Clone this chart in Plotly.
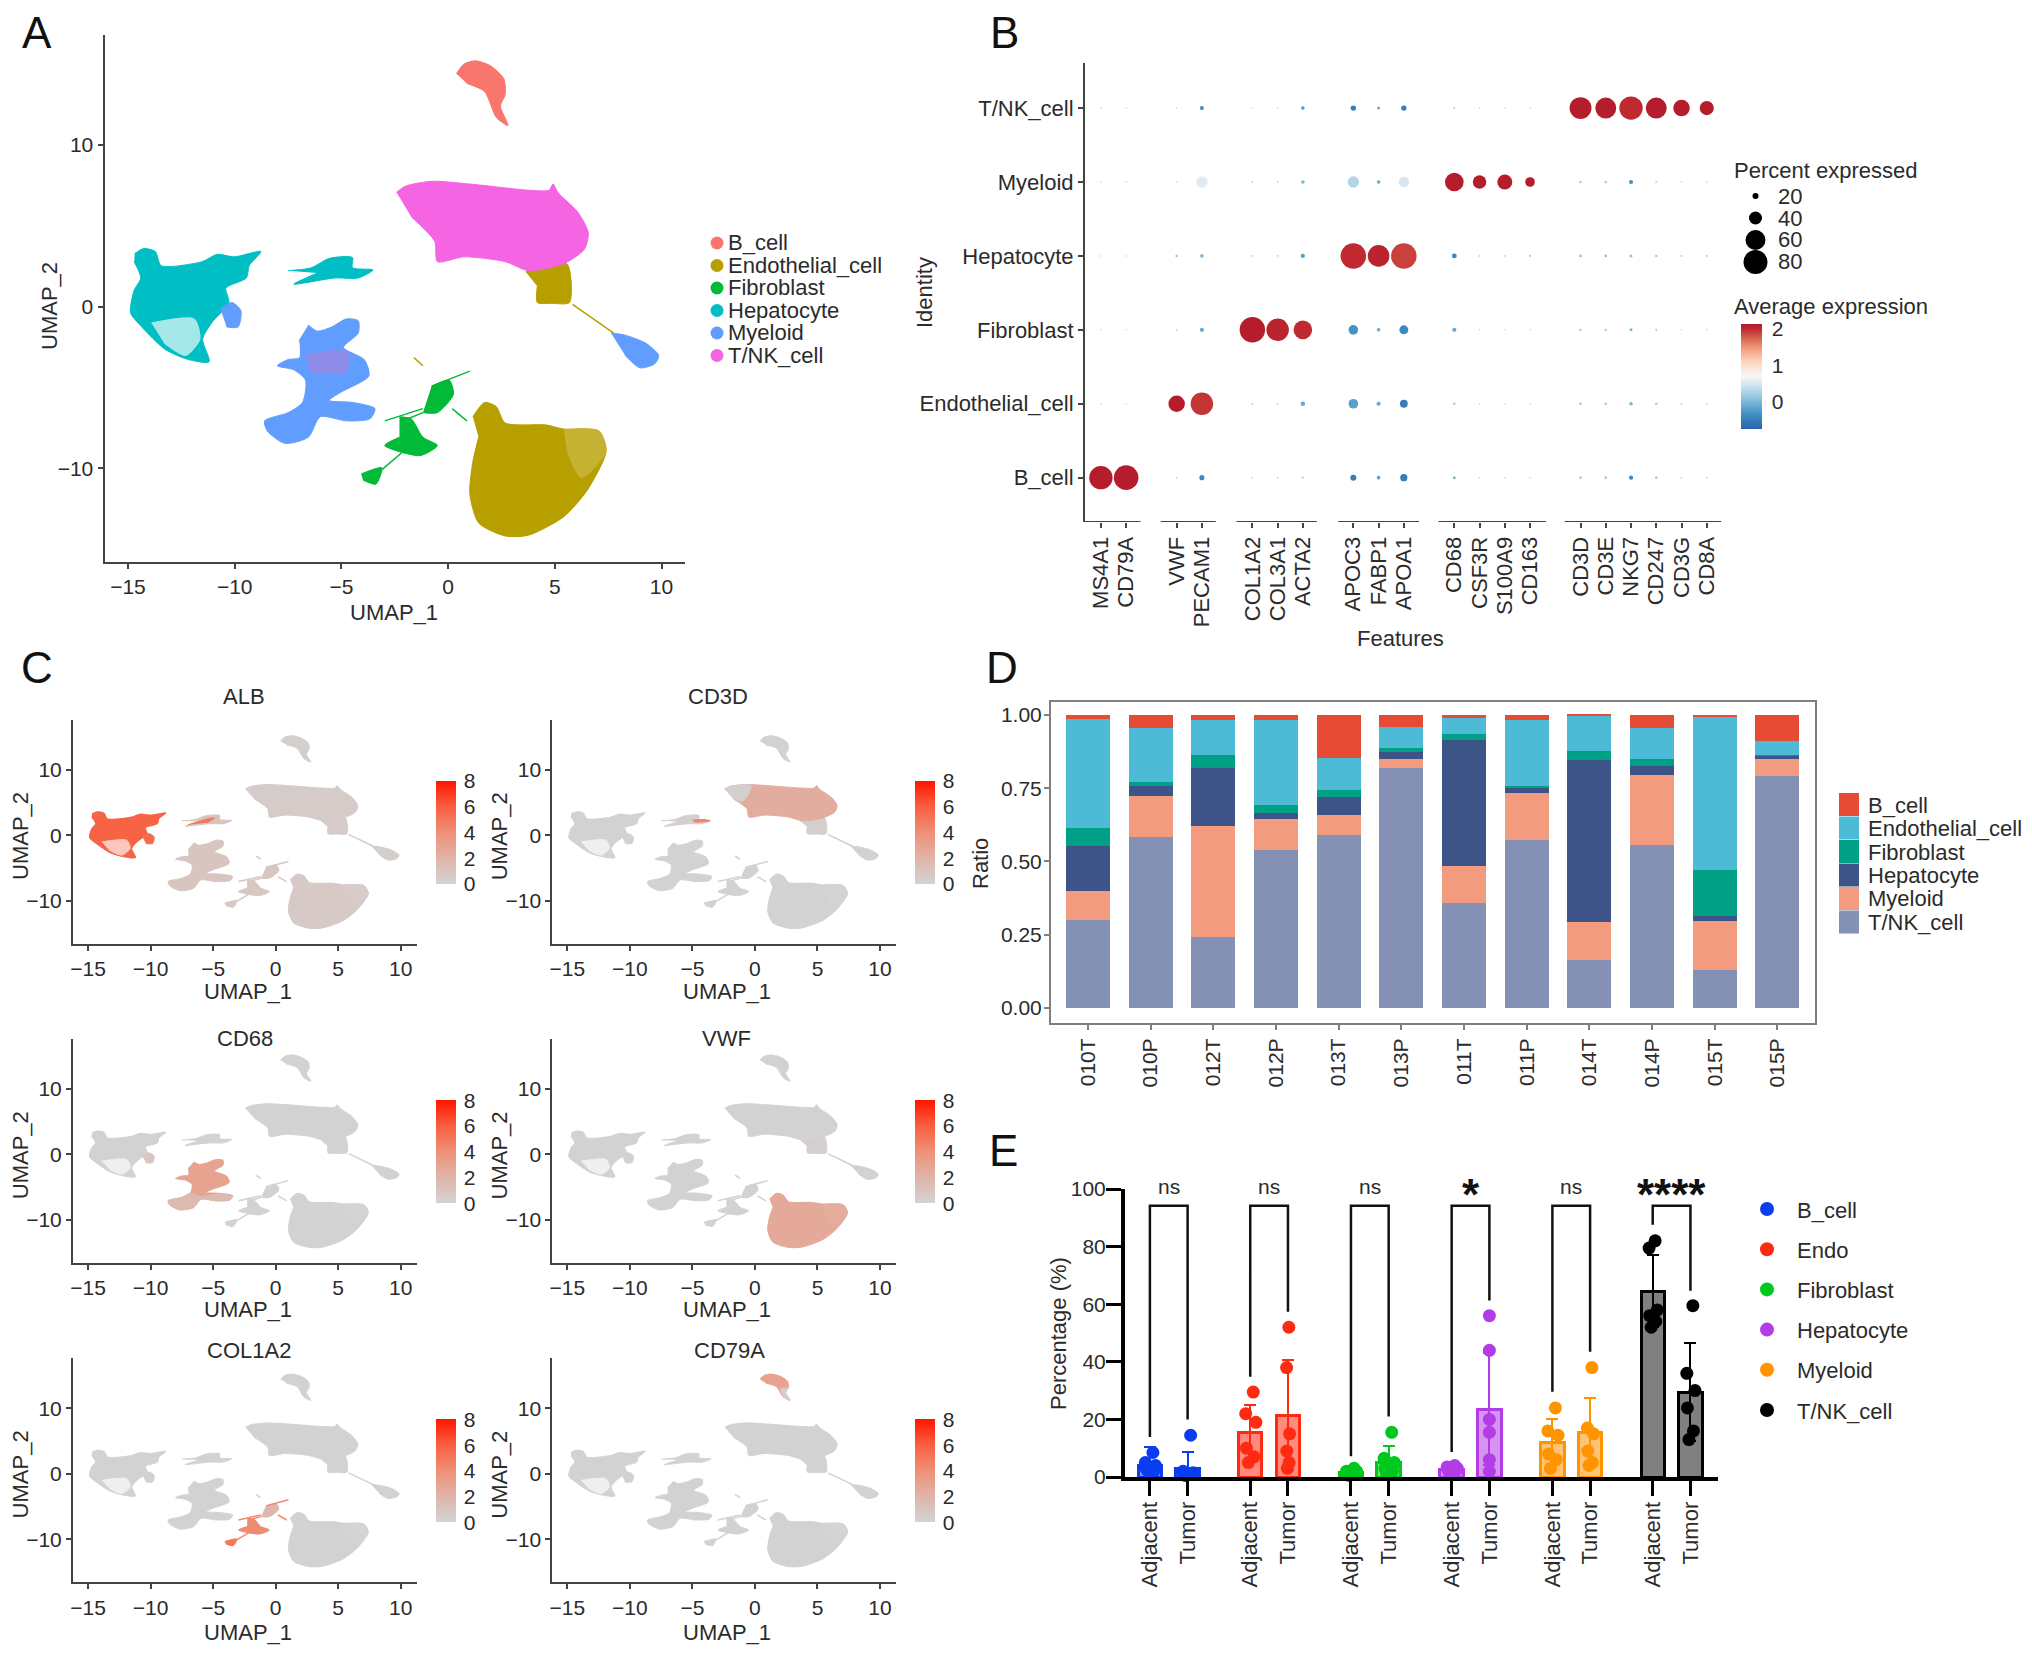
import plotly.graph_objects as go

# the page keeps its 8 px body margin, so the figure sits 8 px in from the corner
W, H = 2032, 1654
OFF = 8
FONT = "Liberation Sans"
INK = "#2b2b2b"

# --- UMAP cluster outlines (UMAP_1, UMAP_2)
B_CELL = [(0.39, 14.4), (0.74, 15.0), (1.29, 15.2), (1.98, 14.9), (2.61, 14.1), (2.67, 13.1), (2.45, 12.4),
          (2.81, 11.2), (2.26, 11.7), (1.71, 13.3), (0.88, 13.8)]
TNK = [(-2.42, 7.07), (-2.0, 7.45), (-0.77, 7.75), (1.02, 7.58), (3.77, 7.2), (4.73, 7.2), (4.92, 7.58), (5.14, 7.07),
       (6.1, 5.8), (6.57, 4.55), (6.38, 3.54), (5.42, 2.65), (3.77, 2.22), (2.67, 2.78), (0.74, 3.08), (-0.5, 2.78),
       (-0.63, 4.04), (-1.73, 5.56)]
ENDO_TOP = [(3.63, 2.15), (5.56, 2.65), (5.69, 0.25), (4.87, 0.2), (4.18, 0.25), (4.18, 1.26)]
ENDO_MAIN = [(1.16, -6.82), (1.71, -5.93), (2.26, -6.19), (2.67, -7.2), (4.59, -7.32), (5.42, -7.58), (7.07, -7.7),
             (7.4, -8.96), (6.52, -11.36), (5.42, -13.0), (3.77, -14.14), (2.67, -14.19), (1.43, -13.38),
             (1.02, -11.6), (1.16, -9.6), (1.43, -8.08)]
ENDO_PALE = [(5.42, -7.6), (7.07, -7.7), (7.4, -8.96), (6.25, -10.6), (5.56, -8.9)]
ENDO_STRAND = [(5.83, 0.13), (7.76, -1.64)]
ENDO_SPOT = [(-1.6, -3.16), (-1.18, -3.66)]
FIB_UPPER = [(-0.77, -4.92), (0.05, -4.55), (0.25, -5.43), (-0.5, -6.56), (-1.18, -6.56)]
FIB_MIDDLE = [(-2.28, -6.82), (-1.73, -6.94), (-1.18, -8.08), (-0.5, -8.59), (-1.32, -9.22), (-2.97, -8.59),
              (-2.28, -8.08)]
FIB_LOWER = [(-4.07, -10.35), (-3.11, -9.97), (-3.38, -10.98), (-3.99, -10.73)]
FIB_THREADS = [[(1.02, -3.99), (-0.77, -4.92)], [(-3.11, -10.1), (-2.0, -8.84)], [(-2.97, -7.07), (-1.18, -6.31)],
               [(0.19, -6.31), (0.88, -7.07)], [(-1.18, -6.56), (-2.0, -7.0)]]
HEP_MAIN = [(-14.68, 3.28), (-14.27, 3.59), (-13.72, 3.41), (-13.44, 2.53), (-11.52, 2.78), (-10.83, 3.23),
            (-10.01, 3.08), (-8.77, 3.41), (-9.32, 2.53), (-9.45, 1.77), (-10.41, 1.14), (-10.27, 0.25),
            (-11.08, -1.01), (-11.5, -2.02), (-11.2, -3.41), (-12.16, -3.28), (-13.26, -2.65), (-14.35, -1.26),
            (-14.88, -0.38), (-14.71, 1.01), (-14.4, 1.77), (-14.71, 2.78)]
HEP_PALE = [(-13.9, -1.01), (-11.9, -0.76), (-11.63, -2.02), (-12.3, -3.03), (-13.3, -2.27)]
HEP_SMALL = [(-7.5, 2.22), (-6.41, 2.4), (-5.58, 2.98), (-4.48, 3.03), (-4.48, 2.4), (-3.52, 2.27), (-4.21, 1.77),
             (-5.3, 1.77), (-7.23, 1.39), (-6.13, 2.07)]
MYE_MAIN = [(-6.55, -1.14), (-6.13, -1.52), (-5.45, -1.26), (-4.76, -0.76), (-4.21, -0.88), (-4.21, -1.64),
            (-4.9, -2.53), (-3.93, -3.28), (-3.71, -4.29), (-5.03, -5.3), (-5.58, -5.81), (-4.48, -5.93),
            (-3.43, -6.31), (-3.66, -6.94), (-4.76, -7.07), (-5.99, -6.82), (-6.55, -8.08), (-7.65, -8.46),
            (-8.47, -7.7), (-8.6, -7.07), (-7.5, -6.56), (-6.82, -5.93), (-6.68, -4.55), (-7.23, -3.91),
            (-8.0, -3.66), (-7.5, -3.28), (-6.96, -3.16), (-6.96, -2.02)]
MYE_CORE = [(-6.7, -3.0), (-4.76, -2.78), (-4.76, -4.04), (-6.41, -4.04)]
MYE_LOBE = [(-10.67, -0.13), (-10.12, 0.25), (-9.71, -0.25), (-9.84, -1.26), (-10.38, -1.26)]
MYE_RIGHT = [(7.63, -1.64), (8.3, -1.77), (9.27, -2.27), (9.87, -3.03), (9.68, -3.54), (8.99, -3.79), (8.3, -3.03)]

UMAP_TYPES = ["B_cell", "Endothelial_cell", "Fibroblast", "Hepatocyte", "Myeloid", "T/NK_cell"]
UMAP_COLORS = ["#F8766D", "#B79F00", "#00BA38", "#00BFC4", "#619CFF", "#F564E3"]
SHAPES = [B_CELL, ENDO_MAIN, ENDO_TOP, FIB_UPPER, FIB_MIDDLE, FIB_LOWER, HEP_MAIN, HEP_SMALL,
          MYE_MAIN, MYE_LOBE, MYE_RIGHT, TNK]
SHAPE_TYPE = [0, 1, 1, 2, 2, 2, 3, 3, 4, 4, 4, 5]
THREADS = [ENDO_STRAND, ENDO_SPOT] + FIB_THREADS
THREAD_SHAPE = [2, 2, 4, 4, 4, 4, 4]
PALE_PATCHES = [ENDO_PALE, HEP_PALE]
PALE_SHAPE = [1, 6]

# --- panel C: mean expression per outline (same order as SHAPES)
GENES_C = ["ALB", "CD3D", "CD68", "VWF", "COL1A2", "CD79A"]
EXPR_C = [[.3, .6, .5, .8, .8, .6, 5.8, 1.0, .9, 5.5, .3, .4],
          [.03, .03, .2, .03, .03, .03, .03, .2, .03, .03, .03, 2.4],
          [.03, .03, .03, .03, .03, .03, .03, .03, 3.0, .8, .03, .03],
          [.03, 2.6, .2, .03, .03, .03, .03, .03, .03, .03, .03, .03],
          [.03, .03, .03, 1.8, 4.2, 5.0, .03, .03, .03, .03, .03, .03],
          [3.0, .03, .03, .03, .03, .03, .03, .03, .03, .03, .03, .03]]
# patches where a gene differs inside an outline: outline points, expression
ALB_STREAK = [(-7.0, 1.6), (-5.2, 2.6), (-4.9, 2.6), (-5.5, 1.9)]
CD3D_COLD = [(-2.42, 7.07), (-2.0, 7.45), (-0.77, 7.75), (-0.3, 7.62), (-0.6, 6.0), (-1.0, 5.2), (-1.73, 5.56)]
CD3D_WARM = [(-5.0, 2.3), (-4.0, 2.4), (-3.6, 2.2), (-4.8, 2.0)]
CD68_ARM = [(-8.47, -7.7), (-8.6, -7.07), (-7.5, -6.56), (-6.82, -5.93), (-6.0, -6.4), (-4.5, -6.0), (-3.43, -6.31),
            (-3.66, -6.94), (-4.76, -7.07), (-5.99, -6.82), (-6.55, -8.08), (-7.65, -8.46)]
CD79A_TAIL = [(2.0, 12.9), (2.67, 13.1), (2.45, 12.4), (2.81, 11.2), (2.26, 11.7)]
GENE_PATCHES = [[(ALB_STREAK, 5.0)], [(CD3D_COLD, 0.3), (CD3D_WARM, 4.5)], [(CD68_ARM, 1.6)], [], [],
                [(CD79A_TAIL, 0.2)]]
TITLE_X = [244, 718, 245, 726, 249, 729]
TITLE_Y = [697, 1038, 1350]
XLABEL_Y = [991, 1309, 1632]
FEATURE_SCALE = ["#D3D3D3", "#E0B4A8", "#EE9078", "#F95F40", "#FF1500"]

# --- panel B: dot plot
IDENTITIES = ["B_cell", "Endothelial_cell", "Fibroblast", "Hepatocyte", "Myeloid", "T/NK_cell"]
FEATURES = ["MS4A1", "CD79A", "VWF", "PECAM1", "COL1A2", "COL3A1", "ACTA2", "APOC3", "FABP1", "APOA1",
            "CD68", "CSF3R", "S100A9", "CD163", "CD3D", "CD3E", "NKG7", "CD247", "CD3G", "CD8A"]
FEATURE_POS = [0, 1, 3, 4, 6, 7, 8, 10, 11, 12, 14, 15, 16, 17, 19, 20, 21, 22, 23, 24]
FEATURE_GROUPS = [(-0.63, 1.57), (2.37, 4.55), (5.37, 8.55), (9.4, 12.6), (13.37, 17.63), (18.37, 24.58)]
PCT = [[78, 82, 6, 17, 6, 6, 7, 20, 12, 24, 10, 5, 5, 5, 9, 9, 14, 9, 6, 6],
       [5, 5, 55, 75, 7, 6, 15, 32, 14, 26, 8, 5, 5, 5, 9, 9, 12, 9, 6, 6],
       [5, 5, 6, 14, 85, 75, 62, 32, 12, 30, 14, 5, 5, 5, 8, 8, 10, 7, 5, 5],
       [5, 5, 8, 12, 6, 6, 14, 85, 72, 85, 16, 6, 6, 7, 9, 9, 10, 8, 7, 7],
       [5, 5, 5, 38, 6, 6, 12, 38, 12, 35, 62, 45, 50, 32, 8, 8, 14, 7, 5, 5],
       [6, 5, 5, 14, 5, 5, 12, 18, 10, 18, 7, 5, 5, 5, 73, 70, 78, 70, 55, 47]]
AVG = [[2.1, 2.1, .3, -.4, .3, .3, .3, -.5, -.2, -.5, 0, .3, .3, .3, .2, .2, -.4, .2, .3, .3],
       [.3, .3, 2.1, 1.95, .3, .3, -.1, -.2, -.1, -.5, .2, .3, .3, .3, .2, .2, 0, .2, .3, .3],
       [.3, .3, .3, -.1, 2.1, 2.05, 2.0, -.3, -.1, -.4, -.1, .3, .3, .3, .2, .2, 0, .2, .3, .3],
       [.3, .3, .1, 0, .3, .3, -.2, 2.0, 2.05, 1.9, -.4, .3, .3, .2, .1, .1, .1, .2, .3, .3],
       [.3, .3, .3, .55, .3, .3, 0, .3, -.1, .5, 2.1, 2.1, 2.1, 2.1, .2, .2, -.3, .3, .3, .3],
       [.3, .3, .3, -.3, .3, .3, -.2, -.5, -.1, -.5, .3, .3, .3, .3, 2.1, 2.1, 2.0, 2.1, 2.1, 2.1]]
RDBU = [[0, "#2a62ac"], [0.15, "#4393c3"], [0.3, "#92c5de"], [0.42, "#d1e5f0"], [0.5, "#f7f7f7"], [0.62, "#fddbc7"],
        [0.75, "#f4a582"], [0.87, "#d6604d"], [0.95, "#c02a30"], [1, "#b2182b"]]

# --- panel D: stacked ratios, bottom to top
SAMPLES = ["010T", "010P", "012T", "012P", "013T", "013P", "011T", "011P", "014T", "014P", "015T", "015P"]
D_TYPES = ["T/NK_cell", "Myeloid", "Hepatocyte", "Fibroblast", "Endothelial_cell", "B_cell"]
D_COLORS = ["#8491B4", "#F39B7F", "#3C5488", "#00A087", "#4DBBD5", "#E64B35"]
D_TNK = [.30, .585, .241, .54, .591, .82, .358, .574, .165, .557, .131, .792]
D_MYE = [.10, .139, .381, .104, .068, .031, .125, .161, .127, .238, .167, .057]
D_HEP = [.153, .034, .198, .023, .06, .024, .432, .018, .555, .031, .015, .011]
D_FIB = [.06, .012, .044, .024, .025, .011, .02, .003, .031, .024, .159, .003]
D_END = [.372, .185, .119, .29, .108, .074, .054, .225, .119, .107, .52, .049]
D_BCL = [.015, .045, .017, .019, .148, .04, .011, .019, .003, .043, .008, .088]
D_VALUES = [D_TNK, D_MYE, D_HEP, D_FIB, D_END, D_BCL]

# --- panel E: percentage bars
E_TYPES = ["B_cell", "Endo", "Fibroblast", "Hepatocyte", "Myeloid", "T/NK_cell"]
E_COLORS = ["#0A3CF0", "#FF2A12", "#00C81E", "#B43CE6", "#FF9300", "#000000"]
E_FILLS = ["rgba(10,60,240,.55)", "rgba(255,42,18,.55)", "rgba(0,200,30,.55)", "rgba(180,60,230,.55)",
           "rgba(255,147,0,.55)", "#808080"]
E_X_ADJ = [0, 2.66, 5.33, 8, 10.67, 13.33]
E_X_TUM = [1, 3.66, 6.33, 9, 11.67, 14.33]
E_MEAN_ADJ = [4, 15.5, 1.5, 2.5, 12, 64.5]
E_MEAN_TUM = [2.9, 21.5, 5, 23.5, 15.5, 29.5]
E_ERR_ADJ = [6.4, 9.5, 1.5, 2, 8, 12.5]
E_ERR_TUM = [5.8, 19, 5.6, 19.5, 12, 17]
E_PTS_ADJ = [[8.5, 5, 4, 3, 2, 2], [29.5, 22, 19, 10, 7, 5], [3, 2, 2, 1, 1, 0.5],
             [4, 3.5, 3, 2.5, 2, 1.5], [24, 16, 14.5, 8, 6, 3], [82, 79.5, 58, 56, 54, 52]]
E_PTS_TUM = [[14.5, 2, 1.5, 1, 1, 0.5], [52, 38, 15, 9, 5, 3], [15.5, 6.5, 5, 3, 2, 1],
             [56, 44, 20, 15.5, 6, 2], [38, 17, 15, 9, 5, 4], [59.5, 36, 30, 24, 16, 13]]
E_JITTER = [0.08, -0.12, 0.15, -0.1, 0.1, -0.05]
E_SPREAD_ADJ = [1, 1, 1, 1, 1, 0.8]
E_SPREAD_TUM = [1, 0.3, 1, 0, 0.6, 0.8]
E_BRACKET_TOP = 94.2
E_LEG_ADJ = [13.9, 34.8, 7.2, 8.7, 29.6, 87.6]
E_LEG_TUM = [20, 57.4, 21, 61.3, 43.5, 64.7]
E_SIGNIF = ["ns", "ns", "ns", "*", "ns", "****"]

fig = go.Figure()
annotations, shapes = [], []
FIG_W, FIG_H = W - OFF, H - OFF


def px_x(x):
    return (x - OFF) / FIG_W


def px_y(y):
    return 1 - (y - OFF) / FIG_H


def label(x, y, text, size=21, angle=0, anchor="center", color=INK):
    annotations.append(dict(x=px_x(x), y=px_y(y), xref="paper", yref="paper", text=text, showarrow=False,
                            xanchor=anchor, yanchor="middle", textangle=angle,
                            font=dict(family=FONT, size=size, color=color)))


def dot(x, y, d, color):
    shapes.append(dict(type="circle", xref="paper", yref="paper", x0=px_x(x - d / 2), x1=px_x(x + d / 2),
                       y0=px_y(y + d / 2), y1=px_y(y - d / 2), fillcolor=color, line=dict(width=0)))


def set_axes(n, box, xr, yr, xtick, ytick, line="#444", width=2, size=21):
    left, top, right, bottom = box
    common = dict(showgrid=False, zeroline=False, showline=True, linecolor=line, linewidth=width, ticks="outside",
                  ticklen=5, tickwidth=2, tickcolor=line, tickfont=dict(family=FONT, size=size, color=INK))
    fig.update_layout(**{
        f"xaxis{n}": dict(domain=[px_x(left), px_x(right)], range=xr, anchor=f"y{n}", tickvals=xtick, **common),
        f"yaxis{n}": dict(domain=[px_y(bottom), px_y(top)], range=yr, anchor=f"x{n}", tickvals=ytick, **common),
    })


def to_rgb(color):
    return [int(color[i:i + 2], 16) for i in (1, 3, 5)]


def tint(color, t):
    # t=0 gives color, t=1 gives white
    return "#%02x%02x%02x" % tuple(int(c + (255 - c) * t) for c in to_rgb(color))


def feature_color(v):
    pos = min(v / 8, 1) * (len(FEATURE_SCALE) - 1)
    i = min(int(pos), len(FEATURE_SCALE) - 2)
    a, b = to_rgb(FEATURE_SCALE[i]), to_rgb(FEATURE_SCALE[i + 1])
    return "#%02x%02x%02x" % tuple(int(p + (q - p) * (pos - i)) for p, q in zip(a, b))


def poly(n, pts, color):
    fig.add_trace(go.Scatter(x=[p[0] for p in pts], y=[p[1] for p in pts], mode="lines", fill="toself",
                             fillcolor=color, line=dict(color=color, width=1, shape="spline", smoothing=0.7),
                             xaxis=f"x{n}", yaxis=f"y{n}", hoverinfo="skip", showlegend=False))


def draw_umap(n, colors, pale_tints):
    for pts, color in zip(SHAPES, colors):
        poly(n, pts, color)
    for pts, s in zip(THREADS, THREAD_SHAPE):
        fig.add_trace(go.Scatter(x=[p[0] for p in pts], y=[p[1] for p in pts], mode="lines",
                                 line=dict(color=colors[s], width=1.5), xaxis=f"x{n}", yaxis=f"y{n}",
                                 hoverinfo="skip", showlegend=False))
    for pts, s, t in zip(PALE_PATCHES, PALE_SHAPE, pale_tints):
        poly(n, pts, tint(colors[s], t))


# ---- A
set_axes(1, (104.5, 35, 685, 562), [-16.1, 11.1], [-15.8, 16.8], [-15, -10, -5, 0, 5, 10], [-10, 0, 10])
draw_umap(1, [UMAP_COLORS[t] for t in SHAPE_TYPE], [0.2, 0.65])
poly(1, MYE_CORE, "#8f8ce8")
label(394, 612, "UMAP_1", size=22)
label(49, 306, "UMAP_2", size=22, angle=-90)
for i, name in enumerate(UMAP_TYPES):
    dot(717, 243 + i * 22.5, 13, UMAP_COLORS[i])
    label(726, 243 + i * 22.5, name, size=22, anchor="left")

# ---- B
set_axes(2, (1085, 63, 1721.4, 522), [-0.63, 24.58], [-0.6, 5.61], FEATURE_POS, list(range(6)), size=22)
fig.update_layout(
    xaxis2=dict(ticktext=FEATURES, tickangle=-90, showline=False, ticklabelstandoff=0),
    yaxis2=dict(ticktext=IDENTITIES),
)
xs, ys, sizes, cols = [], [], [], []
for r in range(len(IDENTITIES)):
    for c in range(len(FEATURES)):
        xs.append(FEATURE_POS[c])
        ys.append(r)
        sizes.append(PCT[r][c] * 0.3)
        cols.append(AVG[r][c])
for a, b in FEATURE_GROUPS:
    fig.add_trace(go.Scatter(x=[a, b], y=[-0.6, -0.6], mode="lines", line=dict(color="#444", width=2), xaxis="x2",
                             yaxis="y2", cliponaxis=False, hoverinfo="skip", showlegend=False))
fig.add_trace(go.Scatter(
    x=xs, y=ys, mode="markers", xaxis="x2", yaxis="y2", cliponaxis=False, showlegend=False,
    marker=dict(size=sizes, color=cols, cmin=-0.74, cmax=2.14, colorscale=RDBU, opacity=1, line=dict(width=0),
                colorbar=dict(x=px_x(1741), xanchor="left", xpad=0, y=px_y(429), yanchor="bottom", ypad=0,
                              len=105, lenmode="pixels", thickness=21, outlinewidth=0, tickvals=[0, 1, 2],
                              ticks="outside", ticklen=6, tickcolor="rgba(0,0,0,0)",
                              tickfont=dict(family=FONT, size=21, color=INK))),
))
label(1400, 638, "Features", size=22)
label(925, 293, "Identity", size=22, angle=-90)
label(1731.5, 170, "Percent expressed", size=22, anchor="left")
for y, d, t in zip([196, 218, 240, 262], [6, 13, 20, 24], ["20", "40", "60", "80"]):
    dot(1755.5, y, d, "#000000")
    label(1776, y, t, size=22, anchor="left")
label(1731.5, 306, "Average expression", size=22, anchor="left")

# ---- C
for k, gene in enumerate(GENES_C):
    col, row = k % 2, k // 2
    dx, dy = col * 479.3, row * 319.2
    n = 3 + k
    set_axes(n, (73 + dx, 720 + dy, 417 + dx, 944 + dy), [-16.2, 11.3], [-16.6, 17.6],
             [-15, -10, -5, 0, 5, 10], [-10, 0, 10])
    draw_umap(n, [feature_color(v) for v in EXPR_C[k]], [0.05, 0.65])
    for pts, v in GENE_PATCHES[k]:
        poly(n, pts, feature_color(v))
    # colour key for the gene, carried by a see-through trace at the outline anchors
    fig.add_trace(go.Scatter(
        x=[s[0][0] for s in SHAPES], y=[s[0][1] for s in SHAPES],
        mode="markers", xaxis=f"x{n}", yaxis=f"y{n}", hoverinfo="skip", showlegend=False,
        marker=dict(size=1, opacity=0, color=EXPR_C[k], cmin=0, cmax=8,
                    colorscale=[[i / 4, c] for i, c in enumerate(FEATURE_SCALE)],
                    colorbar=dict(x=px_x(436 + dx), xanchor="left", xpad=0, y=px_y(884 + dy), yanchor="bottom", ypad=0,
                                  len=103, lenmode="pixels", thickness=20, outlinewidth=0,
                                  tickvals=[0, 2, 4, 6, 8], ticks="outside", ticklen=4, tickcolor="rgba(0,0,0,0)",
                                  tickfont=dict(family=FONT, size=21, color=INK))),
    ))
    label(TITLE_X[k], TITLE_Y[row], gene, size=22)
    label(248 + dx, XLABEL_Y[row], "UMAP_1", size=22)
    label(20 + dx, 836 + dy, "UMAP_2", size=22, angle=-90)

# ---- D
set_axes(9, (1051, 702, 1815, 1023), [-0.59, 11.6], [-0.051, 1.044], list(range(12)), [0, .25, .5, .75, 1],
         line="#7f7f7f")
fig.update_layout(
    xaxis9=dict(ticktext=SAMPLES, tickangle=-90, mirror=True, ticklabelstandoff=0),
    yaxis9=dict(ticktext=["0.00", "0.25", "0.50", "0.75", "1.00"], mirror=True, ticklabelstandoff=-2),
    barmode="stack", bargap=0.3,
)
for name, color, vals in zip(D_TYPES, D_COLORS, D_VALUES):
    fig.add_trace(go.Bar(x=list(range(12)), y=vals, name=name, marker=dict(color=color, line=dict(width=0)),
                         xaxis="x9", yaxis="y9", showlegend=False))
label(980, 864, "Ratio", size=22, angle=-90)
for i, name in enumerate(reversed(D_TYPES)):
    y = 793 + i * 23.5
    shapes.append(dict(type="rect", xref="paper", yref="paper", x0=px_x(1839), x1=px_x(1859), y0=px_y(y + 23),
                       y1=px_y(y), fillcolor=D_COLORS[5 - i], line=dict(width=0)))
    label(1866, y + 12, name, size=22, anchor="left")

# ---- E
set_axes(10, (1125, 1189, 1717.6, 1477), [-0.66, 15.05], [0, 100], E_X_ADJ + E_X_TUM, [0, 20, 40, 60, 80, 100],
         line="#000000", width=4)
fig.update_layout(
    xaxis10=dict(ticktext=["Adjacent"] * 6 + ["Tumor"] * 6, tickangle=-90, ticklen=15, tickwidth=3,
                 ticklabelstandoff=-3, tickfont=dict(family=FONT, size=22, color=INK)),
    yaxis10=dict(ticklen=15, tickwidth=3, ticklabelstandoff=-4),
)
for i in range(6):
    fig.add_trace(go.Bar(
        x=[E_X_ADJ[i], E_X_TUM[i]], y=[E_MEAN_ADJ[i], E_MEAN_TUM[i]], width=0.62, xaxis="x10", yaxis="y10",
        marker=dict(color=E_FILLS[i], line=dict(color=E_COLORS[i], width=3)), offset=-0.31, showlegend=False,
        error_y=dict(type="data", array=[E_ERR_ADJ[i], E_ERR_TUM[i]], color=E_COLORS[i], thickness=2, width=6),
    ))
    for base, pts, spread in ((E_X_ADJ[i], E_PTS_ADJ[i], E_SPREAD_ADJ[i]), (E_X_TUM[i], E_PTS_TUM[i], E_SPREAD_TUM[i])):
        fig.add_trace(go.Scatter(x=[base + j * spread for j in E_JITTER], y=pts, mode="markers", xaxis="x10",
                                 yaxis="y10", cliponaxis=False, marker=dict(size=13, color=E_COLORS[i]),
                                 showlegend=False))
    fig.add_trace(go.Scatter(x=[E_X_ADJ[i], E_X_ADJ[i], E_X_TUM[i], E_X_TUM[i]],
                             y=[E_LEG_ADJ[i], E_BRACKET_TOP, E_BRACKET_TOP, E_LEG_TUM[i]], mode="lines",
                             line=dict(color="#111", width=2.5), xaxis="x10", yaxis="y10", cliponaxis=False,
                             hoverinfo="skip", showlegend=False))
    mid = (E_X_ADJ[i] + E_X_TUM[i]) / 2
    stars = E_SIGNIF[i] != "ns"
    annotations.append(dict(x=mid, y=px_y(1194 if stars else 1186), xref="x10", yref="paper", text=E_SIGNIF[i],
                            showarrow=False, yanchor="middle",
                            font=dict(family=FONT, size=44 if stars else 21, color="#111" if stars else INK,
                                      weight="bold" if stars else "normal")))
label(1058, 1334, "Percentage (%)", size=22, angle=-90)
for i, name in enumerate(E_TYPES):
    y = 1209 + i * 40.2
    dot(1767, y, 14, E_COLORS[i])
    label(1795, y + 1, name, size=22, anchor="left")

# ---- panel letters
for text, x, y in [("A", 37, 33), ("B", 1004, 33), ("C", 37, 667), ("D", 1002, 667), ("E", 1003, 1150)]:
    label(x, y, text, size=44, color="#111")

# colorbars must not push the margins, the axes are placed by hand
fig.update_layout(width=FIG_W, height=FIG_H, autosize=False,
                  margin=dict(l=0, r=0, t=0, b=0, pad=0, autoexpand=False), plot_bgcolor="white",
                  paper_bgcolor="white", annotations=annotations, shapes=shapes, showlegend=False)
fig.write_html("out.html")
